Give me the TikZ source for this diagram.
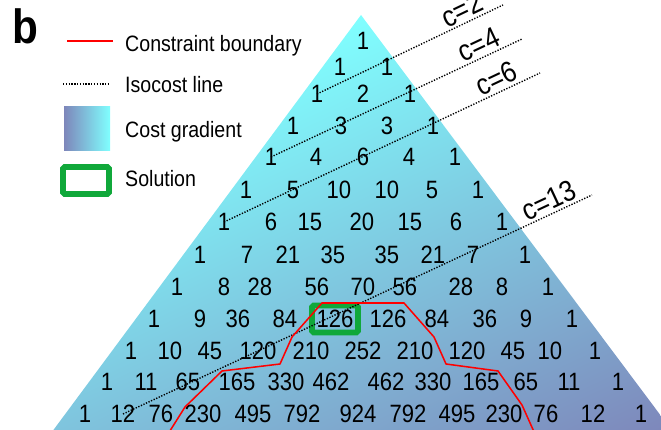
\documentclass[tikz,border=0pt]{standalone}
\usepackage{fontspec}
\setmainfont{Liberation Sans}[FakeStretch=0.88]
\usetikzlibrary{calc}
\definecolor{costlow}{RGB}{128,255,255}
\definecolor{costhigh}{RGB}{126,134,186}
\definecolor{solgreen}{RGB}{16,168,58}
\tikzset{
  num/.style={inner sep=0pt, font=\fontsize{21.4}{24}\selectfont},
  keytext/.style={anchor=base west, inner sep=0pt, font=\fontsize{19}{22}\selectfont},
  clabel/.style={sloped, above, inner sep=2pt, font=\fontsize{25}{28}\selectfont},
  isocost/.style={black, line width=1.2pt, dash pattern=on 1.1pt off 1.3pt},
  constraint/.style={red, line width=1.3pt, line join=round},
  solbox/.style={draw=solgreen, line width=5.1pt, rounded corners=1.5pt,
    minimum width=1.38cm, minimum height=0.81cm, inner sep=0pt}
}

\begin{document}
\begin{tikzpicture}[x=0.03cm, y=-0.03cm]
    \useasboundingbox (0,0) rectangle (661,430);

    % 三角形
    \begin{scope}
      \clip (361,15) -- (46,440) -- (679,440) -- cycle;
      \begin{scope}[transform canvas={shift={(361,15)}, rotate=-65}]
        \shade[left color=costlow, right color=costhigh] (0,-700) rectangle (510,700);
      \end{scope}
    \end{scope}

    % 数字
    \foreach \v/\x [count=\k from 0] in {1/363}
      \node[num] (n0-\k) at (\x,41) {\v};
    \foreach \v/\x [count=\k from 0] in {1/340, 1/387}
      \node[num] (n1-\k) at (\x,67) {\v};
    \foreach \v/\x [count=\k from 0] in {1/317, 2/363, 1/410}
      \node[num] (n2-\k) at (\x,94) {\v};
    \foreach \v/\x [count=\k from 0] in {1/293, 3/341, 3/387, 1/433}
      \node[num] (n3-\k) at (\x,126) {\v};
    \foreach \v/\x [count=\k from 0] in {1/271, 4/316, 6/363, 4/409, 1/455}
      \node[num] (n4-\k) at (\x,157) {\v};
    \foreach \v/\x [count=\k from 0] in {1/246, 5/293, 10/339, 10/387, 5/432, 1/478}
      \node[num] (n5-\k) at (\x,190) {\v};
    \foreach \v/\x [count=\k from 0] in {1/224, 6/271, 15/310, 20/362, 15/410, 6/456, 1/502}
      \node[num] (n6-\k) at (\x,222) {\v};
    \foreach \v/\x [count=\k from 0] in {1/200, 7/247, 21/288, 35/333, 35/387, 21/433, 7/473, 1/525}
      \node[num] (n7-\k) at (\x,255) {\v};
    \foreach \v/\x [count=\k from 0] in {1/177, 8/224, 28/260, 56/317, 70/363, 56/405, 28/461, 8/502, 1/548}
      \node[num] (n8-\k) at (\x,287) {\v};
    \foreach \v/\x [count=\k from 0] in {1/154, 9/200, 36/238, 84/285, 126/335, 126/388, 84/437, 36/485, 9/526, 1/572}
      \node[num] (n9-\k) at (\x,319) {\v};
    \foreach \v/\x [count=\k from 0] in {1/131, 10/170, 45/210, 120/258, 210/311, 252/363, 210/415, 120/467, 45/513, 10/550, 1/595}
      \node[num] (n10-\k) at (\x,351) {\v};
    \foreach \v/\x [count=\k from 0] in {1/107, 11/146, 65/188, 165/237, 330/286, 462/331, 462/386, 330/433, 165/481, 65/526, 11/569, 1/618}
      \node[num] (n11-\k) at (\x,382) {\v};
    \foreach \v/\x [count=\k from 0] in {1/85, 12/123, 76/161, 230/203, 495/253, 792/302, 924/358, 792/408, 495/457, 230/504, 76/546, 12/593, 1/641}
      \node[num] (n12-\k) at (\x,414) {\v};

    % 解
    \node[solbox] (sol) at (n9-4) {};

    % 等コスト線
    \coordinate (e2) at (503,5);
    \coordinate (e4) at (522,39);
    \coordinate (e6) at (540,73);
    \coordinate (e13) at (592,195);
    \draw[isocost] (n2-0.center) -- (e2) node[clabel, pos=0.81] {c=2};
    \draw[isocost] (n4-0.center) -- (e4) node[clabel, pos=0.85] {c=4};
    \draw[isocost] (n6-0.center) -- (e6) node[clabel, pos=0.88] {c=6};
    \draw[isocost] (n12-1.center) -- (e13) node[clabel, pos=0.92] {c=13};

    % 制約境界
    \draw[constraint] (168,434) -- (185,407) -- (222,371) -- (280,364) -- (292,337)
      -- (322,303) -- (404,303) -- (434,337) -- (446,364) -- (498,371)
      -- (522,405) -- (535,434);

    % 凡例
    \node[inner sep=0pt, font=\bfseries\fontsize{41}{44}\selectfont] (tag) at (25,26) {b};
    \coordinate (kc1) at (67,41);
    \coordinate (kc2) at (113,41);
    \draw[constraint] (kc1) -- (kc2);
    \node[keytext] (kct) at (125,52) {Constraint boundary};
    \coordinate (ki1) at (63,84);
    \coordinate (ki2) at (110,84);
    \draw[isocost] (ki1) -- (ki2);
    \node[keytext] (kit) at (125,93) {Isocost line};
    \shade[left color=costhigh, right color=costlow] (64,107) rectangle (110,151);
    \node[keytext] (kgt) at (125,138) {Cost gradient};
    \node[solbox] (ksol) at (86,180.5) {};
    \node[keytext] (kst) at (125,187) {Solution};
\end{tikzpicture}
\end{document}
